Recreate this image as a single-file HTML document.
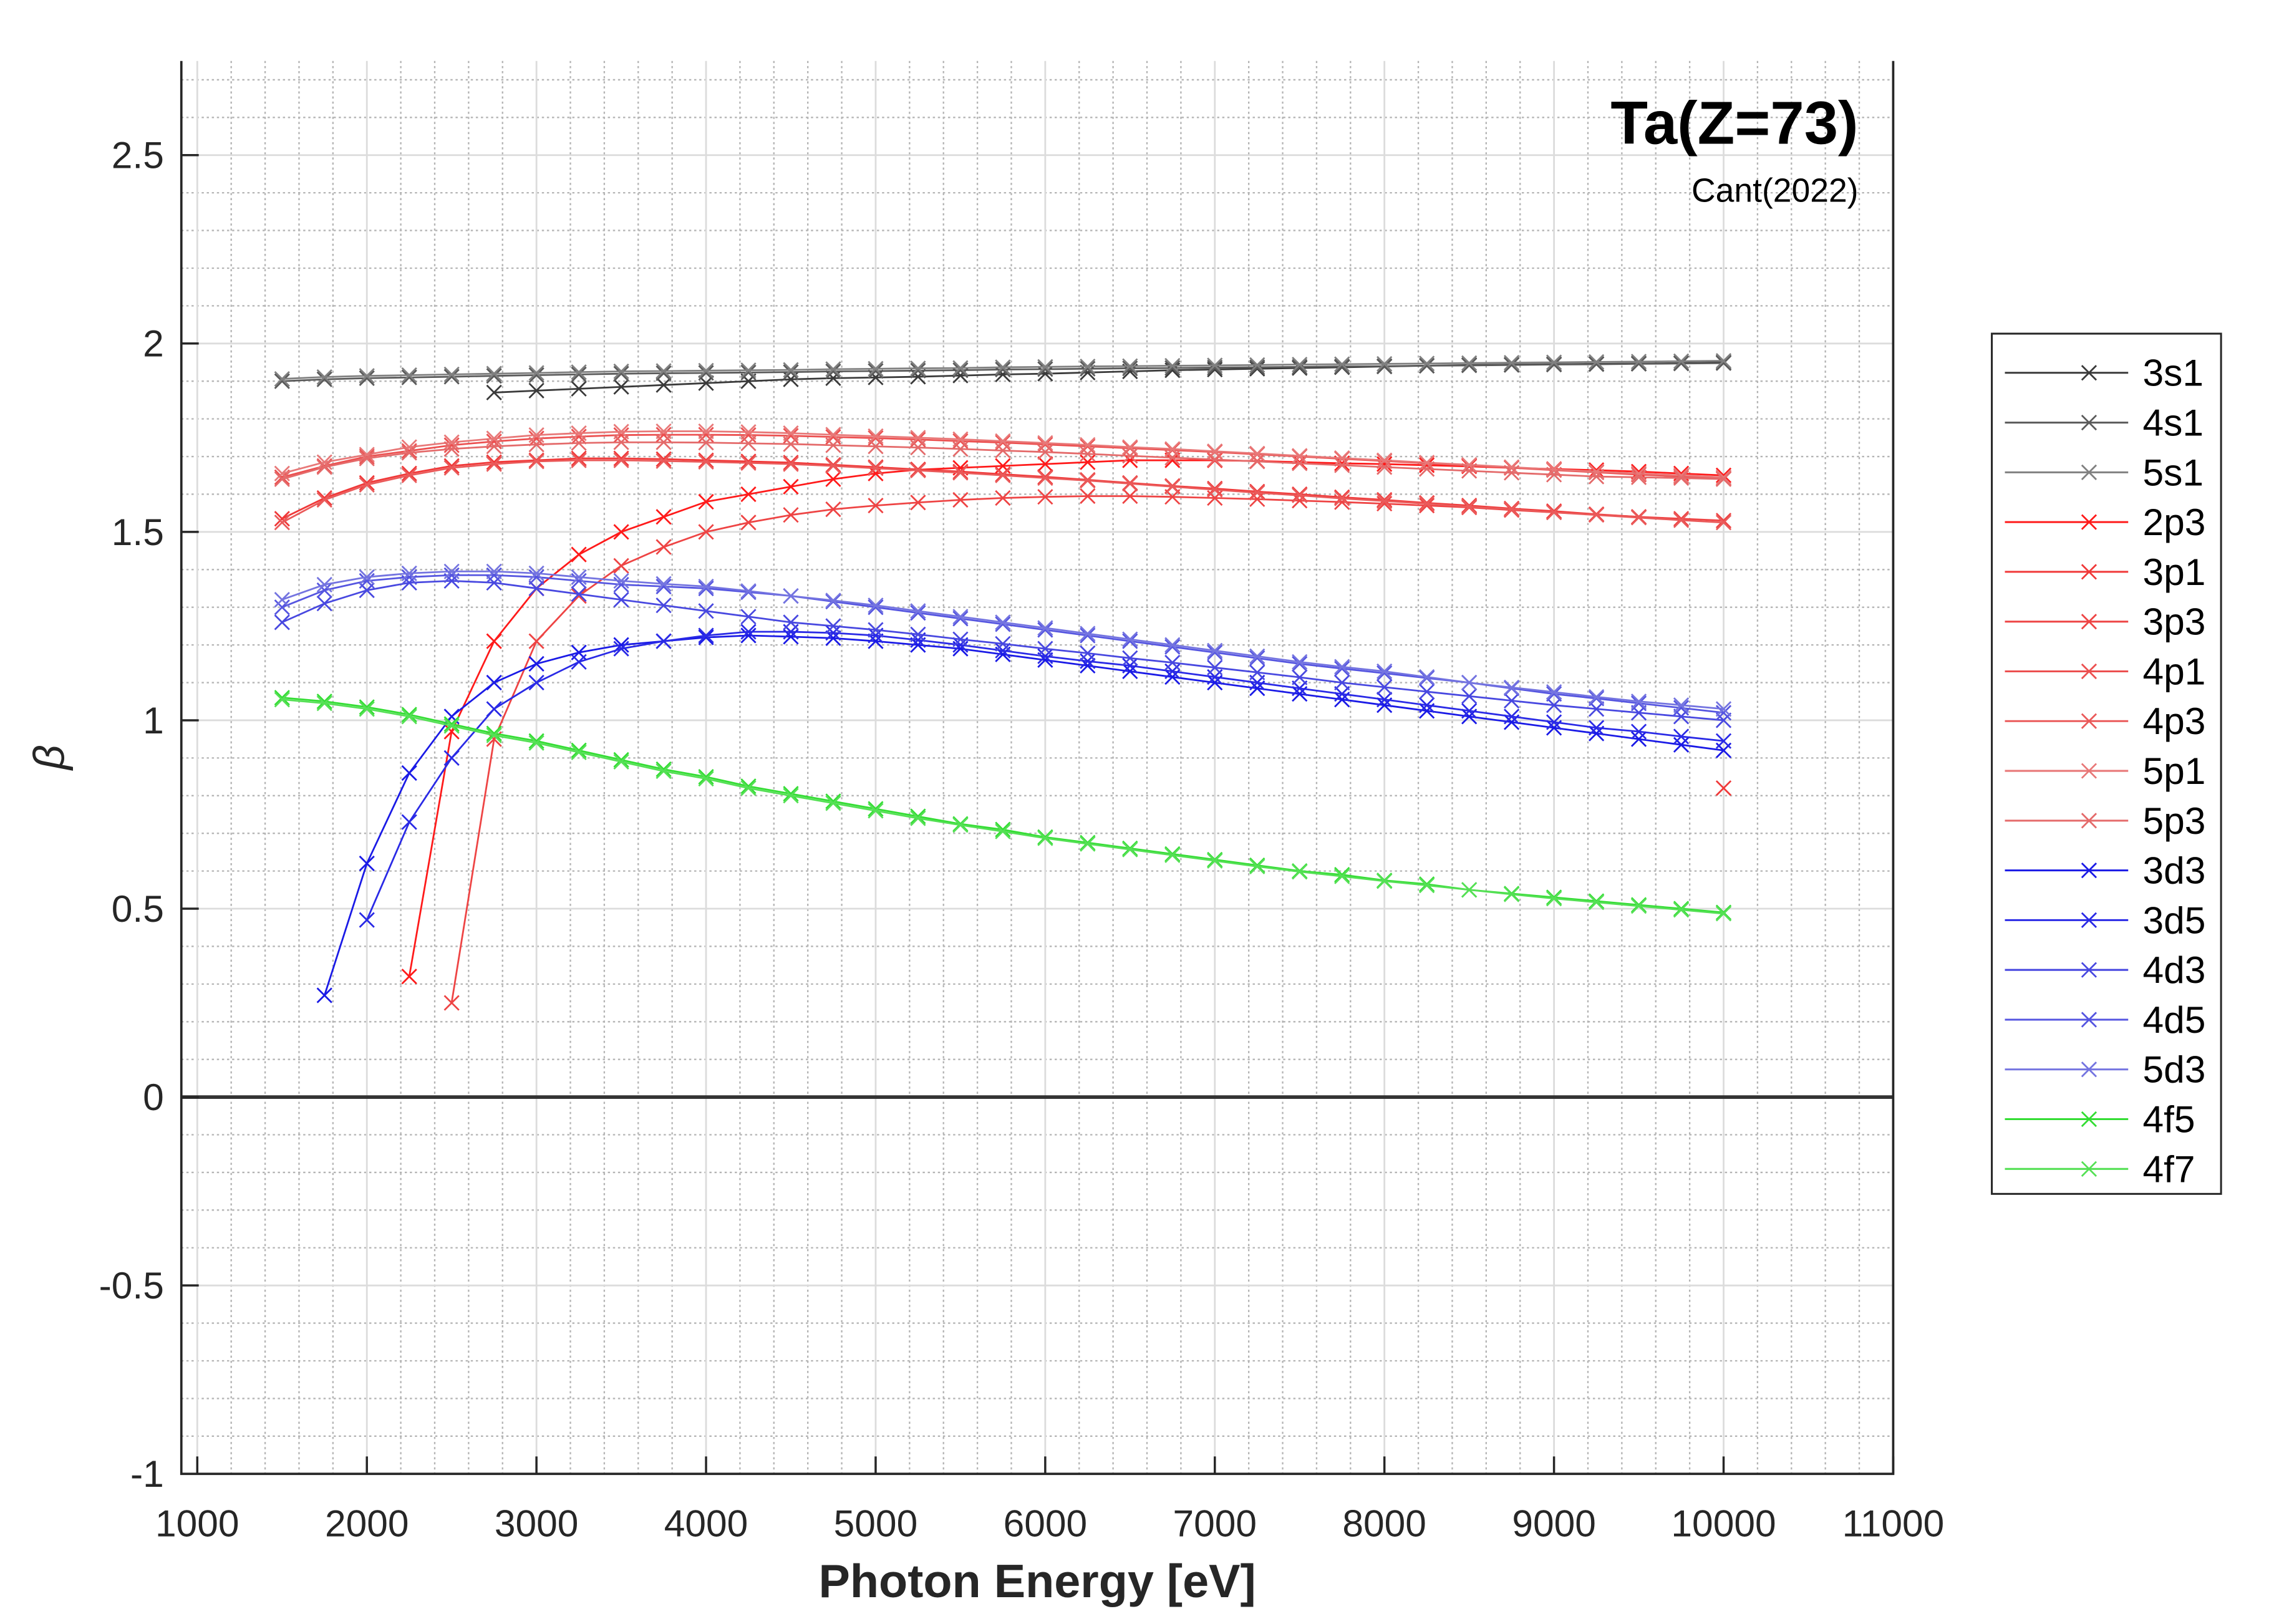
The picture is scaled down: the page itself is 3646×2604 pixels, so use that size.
<!DOCTYPE html>
<html><head><meta charset="utf-8"><style>
html,body{margin:0;padding:0;background:#fff;}
svg{display:block;}
text{font-family:"Liberation Sans",Arial,sans-serif;}
</style></head><body>
<svg id="chart" width="3646" height="2604" viewBox="0 0 1567.5 1119.5" preserveAspectRatio="none" xmlns="http://www.w3.org/2000/svg">
<rect width="1567.5" height="1119.5" fill="#fff"/>
<g id="grid"></g>
<g id="series"></g>
<g id="axes"></g>
<g id="legend"></g>
<text x="1281" y="99" text-anchor="end" font-size="42" font-weight="bold">Ta(Z=73)</text>
<text x="1281" y="139" text-anchor="end" font-size="23">Cant(2022)</text>
<text x="715" y="1101" text-anchor="middle" font-size="32.5" font-weight="bold" fill="#262626">Photon Energy [eV]</text>
<text x="44" y="522" text-anchor="middle" font-size="30" font-style="italic" font-family="Liberation Serif, serif" transform="rotate(-90 44 522)" fill="#262626">β</text>
</svg>
<script>
const energies=[1500,1750,2000,2250,2500,2750,3000,3250,3500,3750,4000,4250,4500,4750,5000,5250,5500,5750,6000,6250,6500,6750,7000,7250,7500,7750,8000,8250,8500,8750,9000,9250,9500,9750,10000];
const seriesNames=["3s1","4s1","5s1","2p3","3p1","3p3","4p1","4p3","5p1","5p3","3d3","3d5","4d3","4d5","5d3","4f5","4f7"];
const s3s1=[null,null,null,null,null,1.87,1.875,1.88,1.885,1.89,1.895,1.90,1.905,1.908,1.91,1.912,1.915,1.918,1.92,1.923,1.926,1.929,1.931,1.933,1.935,1.937,1.939,1.941,1.943,1.944,1.945,1.946,1.947,1.948,1.95];
const s4s1=[1.90,1.905,1.908,1.91,1.912,1.914,1.916,1.918,1.92,1.921,1.922,1.923,1.924,1.926,1.927,1.928,1.929,1.931,1.932,1.933,1.934,1.935,1.936,1.937,1.938,1.939,1.94,1.941,1.942,1.943,1.944,1.945,1.946,1.947,1.948];
const s5s1=[1.906,1.911,1.914,1.916,1.918,1.92,1.922,1.924,1.926,1.927,1.928,1.929,1.93,1.932,1.933,1.934,1.935,1.937,1.938,1.939,1.94,1.941,1.942,1.943,1.944,1.945,1.946,1.947,1.948,1.949,1.95,1.951,1.952,1.953,1.954];
const s2p3=[null,null,null,0.32,0.97,1.21,1.35,1.44,1.50,1.54,1.58,1.60,1.62,1.64,1.655,1.665,1.67,1.675,1.68,1.685,1.69,1.69,1.69,1.688,1.685,1.682,1.68,1.677,1.674,1.67,1.667,1.664,1.66,1.655,1.65];
const s3p1=[1.535,1.59,1.63,1.655,1.675,1.685,1.69,1.695,1.695,1.693,1.69,1.687,1.684,1.678,1.672,1.666,1.66,1.653,1.646,1.638,1.63,1.622,1.615,1.607,1.60,1.592,1.585,1.577,1.57,1.562,1.555,1.547,1.54,null,0.82];
const s3p3=[null,null,null,null,0.25,0.95,1.21,1.33,1.41,1.46,1.50,1.525,1.545,1.56,1.57,1.578,1.585,1.59,1.593,1.595,1.595,1.593,1.59,1.587,1.583,1.579,1.575,1.57,1.565,1.558,1.552,1.546,1.54,1.535,1.53];
const s4p1=[1.645,1.675,1.70,1.715,1.73,1.74,1.748,1.753,1.757,1.758,1.758,1.757,1.755,1.752,1.749,1.745,1.741,1.737,1.732,1.727,1.722,1.717,1.712,1.706,1.70,1.694,1.688,1.682,1.676,1.67,1.664,1.658,1.652,1.647,1.642];
const s4p3=[1.525,1.585,1.625,1.65,1.67,1.68,1.687,1.69,1.69,1.688,1.686,1.683,1.68,1.675,1.669,1.663,1.657,1.65,1.643,1.636,1.628,1.62,1.612,1.604,1.597,1.589,1.582,1.575,1.567,1.56,1.552,1.545,1.538,1.531,1.525];
const s5p1=[1.655,1.685,1.705,1.725,1.738,1.748,1.757,1.762,1.766,1.767,1.767,1.765,1.762,1.758,1.754,1.75,1.746,1.741,1.736,1.731,1.725,1.72,1.714,1.708,1.702,1.696,1.69,1.684,1.678,1.672,1.666,1.66,1.655,1.65,1.645];
const s5p3=[1.64,1.672,1.695,1.71,1.72,1.727,1.732,1.736,1.738,1.738,1.737,1.735,1.733,1.73,1.727,1.724,1.72,1.716,1.712,1.707,1.702,1.697,1.692,1.687,1.682,1.677,1.672,1.667,1.662,1.657,1.652,1.647,1.645,1.643,1.64];
const s3d3=[null,0.27,0.62,0.86,1.01,1.10,1.15,1.18,1.20,1.21,1.22,1.225,1.222,1.218,1.21,1.20,1.19,1.175,1.16,1.145,1.13,1.115,1.10,1.085,1.07,1.055,1.04,1.025,1.01,0.995,0.98,0.965,0.95,0.935,0.92];
const s3d5=[null,null,0.47,0.73,0.90,1.03,1.10,1.155,1.19,1.21,1.225,1.235,1.235,1.232,1.225,1.213,1.20,1.185,1.17,1.157,1.145,1.13,1.115,1.10,1.085,1.07,1.055,1.04,1.025,1.01,0.995,0.98,0.97,0.957,0.945];
const s4d3=[1.26,1.31,1.345,1.365,1.37,1.365,1.35,1.335,1.32,1.305,1.29,1.275,1.26,1.25,1.24,1.228,1.215,1.203,1.19,1.178,1.165,1.153,1.14,1.127,1.114,1.10,1.088,1.076,1.064,1.052,1.04,1.03,1.02,1.01,1.0];
const s4d5=[1.30,1.345,1.37,1.38,1.385,1.385,1.38,1.37,1.36,1.355,1.35,1.34,1.33,1.315,1.30,1.285,1.27,1.255,1.24,1.225,1.21,1.195,1.18,1.165,1.15,1.137,1.125,1.112,1.10,1.085,1.07,1.058,1.045,1.033,1.02];
const s5d3=[1.32,1.36,1.38,1.39,1.395,1.395,1.39,1.38,1.37,1.362,1.355,1.343,1.33,1.318,1.305,1.29,1.275,1.26,1.245,1.23,1.215,1.2,1.185,1.17,1.155,1.142,1.13,1.115,1.10,1.087,1.075,1.062,1.05,1.04,1.03];
const s4f5=[1.06,1.05,1.035,1.015,0.99,0.965,0.945,0.92,0.895,0.87,0.85,0.825,0.805,0.785,0.765,0.745,0.725,0.71,0.69,0.675,0.66,0.645,0.63,0.615,0.60,0.59,0.575,0.565,0.55,0.54,0.53,0.52,0.51,0.50,0.49];
const s4f7=[1.055,1.045,1.03,1.01,0.985,0.96,0.94,0.915,0.89,0.865,0.845,0.82,0.80,0.78,0.76,0.74,0.722,0.705,0.687,0.672,0.657,0.642,0.627,0.612,0.598,0.586,0.573,0.562,0.55,0.538,0.527,0.517,0.507,0.497,0.487];
const xTicks=[1000,2000,3000,4000,5000,6000,7000,8000,9000,10000,11000];
const yTicks=[-1,-0.5,0,0.5,1,1.5,2,2.5];

const seriesData=[s3s1,s4s1,s5s1,s2p3,s3p1,s3p3,s4p1,s4p3,s5p1,s5p3,s3d3,s3d5,s4d3,s4d5,s5d3,s4f5,s4f7];
const colors=["#3a3a3a","#5a5a5a","#808080","#ff1a1a","#f03838","#ee4444","#ec5050","#ea5a5a","#e87878","#e46a6a","#1a1ae6","#2a2ae6","#4848e0","#5555e0","#7474e0","#33dd33","#55e055"];
const NS="http://www.w3.org/2000/svg";
const L=125,R=1305,T=42,B=1016;
const xMin=906,xMax=11000,yMin=-1,yMax=2.75;
function sx(v){return L+(v-xMin)/(xMax-xMin)*(R-L);}
function sy(v){return B-(v-yMin)/(yMax-yMin)*(B-T);}
function mk(tag,attrs,parent){const e=document.createElementNS(NS,tag);for(const k in attrs)e.setAttribute(k,attrs[k]);parent.appendChild(e);return e;}
const grid=document.getElementById('grid'),ser=document.getElementById('series'),axes=document.getElementById('axes'),leg=document.getElementById('legend');
for(let v=1000;v<=11000;v+=200){if(v%1000===0)continue;const l=mk('line',{x1:sx(v),x2:sx(v),y1:T,y2:B,stroke:'#b4b4b4','stroke-width':1,'stroke-dasharray':'1.5,2'},grid);

}
for(let i=-10;i<=27;i++){const v=i/10;if(i%5===0)continue;const l=mk('line',{x1:L,x2:R,y1:sy(v),y2:sy(v),stroke:'#b4b4b4','stroke-width':1,'stroke-dasharray':'1.5,2'},grid);

}
xTicks.forEach(v=>{const l=mk('line',{x1:sx(v),x2:sx(v),y1:T,y2:B,stroke:'#dcdcdc','stroke-width':1.2},grid);


const t=mk('text',{x:sx(v),y:B+43,'text-anchor':'middle','font-size':26,fill:'#262626'},axes);t.textContent=v;


const tk=mk('line',{x1:sx(v),x2:sx(v),y1:B,y2:B-12,stroke:'#262626','stroke-width':1.5},axes);

});
yTicks.forEach(v=>{const l=mk('line',{x1:L,x2:R,y1:sy(v),y2:sy(v),stroke:'#dcdcdc','stroke-width':1.2},grid);


const t=mk('text',{x:L-12,y:sy(v)+9,'text-anchor':'end','font-size':26,fill:'#262626'},axes);t.textContent=v;


const tk=mk('line',{x1:L,x2:L+12,y1:sy(v),y2:sy(v),stroke:'#262626','stroke-width':1.5},axes);

});
const zl=mk('line',{x1:L,x2:R,y1:sy(0),y2:sy(0),stroke:'#333','stroke-width':2.5},grid);


const ax=mk('path',{d:`M${L},${T} V${B} H${R} V${T}`,fill:'none',stroke:'#262626','stroke-width':1.6},axes);


function cross(g,x,y,c,s){mk('path',{d:`M${x-s},${y-s}L${x+s},${y+s}M${x-s},${y+s}L${x+s},${y-s}`,stroke:c,'stroke-width':1.2,fill:'none'},g);}
seriesData.forEach((arr,si)=>{const g=mk('g',{},ser);


let d='',pen=false;
arr.forEach((v,i)=>{if(v===null){pen=false;return;}d+=(pen?'L':'M')+sx(energies[i]).toFixed(1)+','+sy(v).toFixed(1);pen=true;});
mk('path',{d:d,fill:'none',stroke:colors[si],'stroke-width':1.2},g);
arr.forEach((v,i)=>{if(v!==null)cross(g,sx(energies[i]),sy(v),colors[si],5);});});
const lb=mk('rect',{x:1373,y:230,width:158,height:593,fill:'#fff',stroke:'#262626','stroke-width':1.3},leg);


seriesNames.forEach((n,i)=>{const y=257+i*34.3;const g=mk('g',{},leg);


mk('line',{x1:1382,x2:1467,y1:y,y2:y,stroke:colors[i],'stroke-width':1.3},g);cross(g,1440,y,colors[i],5);
const t=mk('text',{x:1477,y:y+9,'font-size':26},g);t.textContent=n;});
</script>
</body></html>
